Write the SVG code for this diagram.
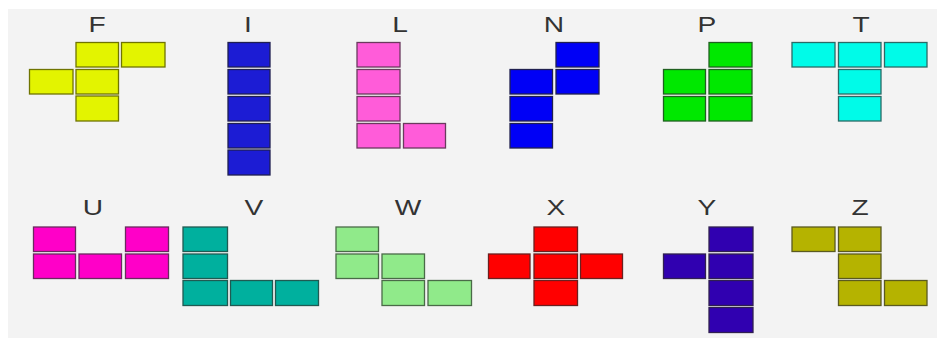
<svg xmlns="http://www.w3.org/2000/svg" width="937" height="339" viewBox="0 0 937 339">
<style>
  .bg { fill: #f3f3f3; }
  .lbl { font-family: "Liberation Sans", Arial, sans-serif; font-size: 22px; fill: #333333; text-anchor: middle; }
  rect.c { stroke-width: 1.3; }
  #F rect { fill: #e3f400; stroke: #6f7400; }
  #I rect { fill: #1c1cd4; stroke: #202050; }
  #L rect { fill: #ff5cd9; stroke: #6a3a5e; }
  #N rect { fill: #0000f6; stroke: #202050; }
  #P rect { fill: #00e800; stroke: #206020; }
  #T rect { fill: #00fbe8; stroke: #2a6a66; }
  #U rect { fill: #ff00c8; stroke: #6a2a5e; }
  #V rect { fill: #00b09e; stroke: #205a52; }
  #W rect { fill: #90ea8a; stroke: #4a6a48; }
  #X rect { fill: #ff0000; stroke: #6a2020; }
  #Y rect { fill: #3000b0; stroke: #302050; }
  #Z rect { fill: #b5b300; stroke: #5a5a20; }
</style>
<rect class="bg" x="8" y="9" width="929" height="329"/>

<g id="F">
  <text class="lbl" transform="translate(97,32) scale(1.28,1)">F</text>
  <rect class="c" x="76" y="42.5" width="42.5" height="24.5"/>
  <rect class="c" x="121.5" y="42.5" width="43.5" height="24.5"/>
  <rect class="c" x="29.5" y="69.5" width="43.5" height="24.5"/>
  <rect class="c" x="76" y="69.5" width="42.5" height="24.5"/>
  <rect class="c" x="76" y="96" width="42.5" height="25"/>
</g>

<g id="I">
  <text class="lbl" transform="translate(248,32) scale(1.28,1)">I</text>
  <rect class="c" x="228" y="42.5" width="42" height="24.5"/>
  <rect class="c" x="228" y="69.5" width="42" height="24.5"/>
  <rect class="c" x="228" y="96.5" width="42" height="24.5"/>
  <rect class="c" x="228" y="123.5" width="42" height="24.5"/>
  <rect class="c" x="228" y="150" width="42" height="25"/>
</g>

<g id="L">
  <text class="lbl" transform="translate(400,32) scale(1.28,1)">L</text>
  <rect class="c" x="357" y="42.5" width="43" height="24.5"/>
  <rect class="c" x="357" y="69.5" width="43" height="24.5"/>
  <rect class="c" x="357" y="96.5" width="43" height="24.5"/>
  <rect class="c" x="357" y="123.5" width="43" height="24.5"/>
  <rect class="c" x="403.5" y="123.5" width="42" height="24.5"/>
</g>

<g id="N">
  <text class="lbl" transform="translate(554,32) scale(1.28,1)">N</text>
  <rect class="c" x="556" y="42.5" width="43" height="24.5"/>
  <rect class="c" x="510" y="69.5" width="42.5" height="24.5"/>
  <rect class="c" x="556" y="69.5" width="43" height="24.5"/>
  <rect class="c" x="510" y="96.5" width="42.5" height="24.5"/>
  <rect class="c" x="510" y="123.5" width="42.5" height="24.5"/>
</g>

<g id="P">
  <text class="lbl" transform="translate(707,32) scale(1.28,1)">P</text>
  <rect class="c" x="709" y="42.5" width="43" height="24.5"/>
  <rect class="c" x="663.5" y="69.5" width="42" height="24.5"/>
  <rect class="c" x="709" y="69.5" width="43" height="24.5"/>
  <rect class="c" x="663.5" y="96.5" width="42" height="24.5"/>
  <rect class="c" x="709" y="96.5" width="43" height="24.5"/>
</g>

<g id="T">
  <text class="lbl" transform="translate(861,32) scale(1.28,1)">T</text>
  <rect class="c" x="792" y="42.5" width="43" height="24.5"/>
  <rect class="c" x="838.5" y="42.5" width="42.5" height="24.5"/>
  <rect class="c" x="884.5" y="42.5" width="42.5" height="24.5"/>
  <rect class="c" x="838.5" y="69.5" width="42.5" height="24.5"/>
  <rect class="c" x="838.5" y="96.5" width="42.5" height="24.5"/>
</g>

<g id="U">
  <text class="lbl" transform="translate(93,215) scale(1.28,1)">U</text>
  <rect class="c" x="33.5" y="227" width="42" height="24.5"/>
  <rect class="c" x="125.5" y="227" width="43" height="24.5"/>
  <rect class="c" x="33.5" y="254" width="42" height="24.5"/>
  <rect class="c" x="79" y="254" width="42.5" height="24.5"/>
  <rect class="c" x="125.5" y="254" width="43" height="24.5"/>
</g>

<g id="V">
  <text class="lbl" transform="translate(254,215) scale(1.28,1)">V</text>
  <rect class="c" x="183" y="227" width="44.5" height="24.5"/>
  <rect class="c" x="183" y="254" width="44.5" height="24.5"/>
  <rect class="c" x="183" y="280.5" width="44.5" height="25"/>
  <rect class="c" x="230.5" y="280.5" width="42" height="25"/>
  <rect class="c" x="275.5" y="280.5" width="43" height="25"/>
</g>

<g id="W">
  <text class="lbl" transform="translate(408,215) scale(1.28,1)">W</text>
  <rect class="c" x="336" y="227" width="42.5" height="24.5"/>
  <rect class="c" x="336" y="254" width="42.5" height="24.5"/>
  <rect class="c" x="382" y="254" width="42.5" height="24.5"/>
  <rect class="c" x="382" y="280.5" width="42.5" height="25"/>
  <rect class="c" x="428" y="280.5" width="43.5" height="25"/>
</g>

<g id="X">
  <text class="lbl" transform="translate(556,215) scale(1.28,1)">X</text>
  <rect class="c" x="534" y="227" width="43.5" height="24.5"/>
  <rect class="c" x="488.5" y="254" width="41.5" height="24.5"/>
  <rect class="c" x="534" y="254" width="43.5" height="24.5"/>
  <rect class="c" x="580.5" y="254" width="42" height="24.5"/>
  <rect class="c" x="534" y="280.5" width="43.5" height="25"/>
</g>

<g id="Y">
  <text class="lbl" transform="translate(707,215) scale(1.28,1)">Y</text>
  <rect class="c" x="709" y="227" width="44" height="24.5"/>
  <rect class="c" x="663.5" y="254" width="42" height="24.5"/>
  <rect class="c" x="709" y="254" width="44" height="24.5"/>
  <rect class="c" x="709" y="280.5" width="44" height="25"/>
  <rect class="c" x="709" y="307.5" width="44" height="25"/>
</g>

<g id="Z">
  <text class="lbl" transform="translate(860,215) scale(1.28,1)">Z</text>
  <rect class="c" x="792" y="227" width="43" height="24.5"/>
  <rect class="c" x="838.5" y="227" width="42.5" height="24.5"/>
  <rect class="c" x="838.5" y="254" width="42.5" height="24.5"/>
  <rect class="c" x="838.5" y="280.5" width="42.5" height="25"/>
  <rect class="c" x="884.5" y="280.5" width="42.5" height="25"/>
</g>
</svg>
